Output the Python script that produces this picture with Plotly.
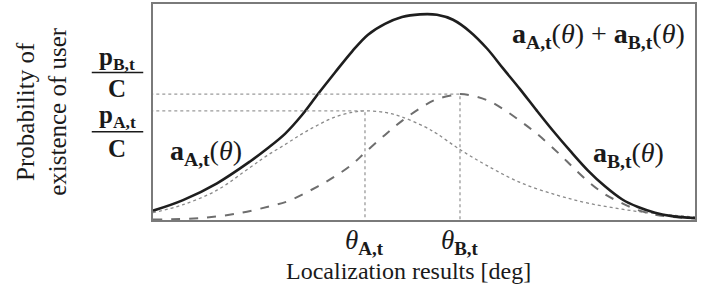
import plotly.graph_objects as go

# ---- data (x: 0..100 arbitrary deg units, y: 0..1 probability) ----
sum_x = [0, 5.54, 11.81, 17.90, 21.03, 24.35, 27.49, 30.44, 33.58, 36.72, 39.67, 42.80, 45.94, 49.26,
         52.40, 55.35, 58.49, 61.62, 64.58, 67.71, 70.85, 73.80, 76.94, 80.26, 83.39, 86.53, 89.48, 92.62, 95.76, 100]
sum_y = [0.043, 0.092, 0.170, 0.271, 0.330, 0.399, 0.486, 0.583, 0.683, 0.780, 0.858, 0.908, 0.940, 0.952,
         0.950, 0.927, 0.872, 0.794, 0.702, 0.606, 0.505, 0.413, 0.321, 0.229, 0.156, 0.096, 0.060, 0.034, 0.018, 0.009]

a_x = [0, 5.54, 11.81, 17.90, 21.03, 24.35, 27.49, 30.44, 33.58, 36.72, 39.11, 42.80, 45.94, 50.18,
       52.40, 56.64, 61.62, 67.71, 74.54, 80.26, 86.53, 92.62, 100]
a_y = [0.034, 0.071, 0.138, 0.243, 0.298, 0.349, 0.399, 0.440, 0.477, 0.498, 0.505, 0.498, 0.477, 0.431,
       0.399, 0.326, 0.252, 0.174, 0.115, 0.078, 0.050, 0.030, 0.014]

b_x = [0, 8.67, 16.05, 21.59, 24.91, 30.44, 33.58, 36.72, 39.11, 42.80, 45.94, 49.63, 52.40, 55.35, 56.64,
       58.49, 61.62, 64.58, 67.71, 70.85, 75.09, 77.31, 80.26, 83.39, 86.53, 89.48, 92.62, 95.76, 100]
b_y = [0.002, 0.009, 0.032, 0.064, 0.087, 0.156, 0.202, 0.257, 0.312, 0.394, 0.459, 0.523, 0.560, 0.578, 0.583,
       0.578, 0.555, 0.514, 0.459, 0.399, 0.303, 0.248, 0.179, 0.119, 0.078, 0.046, 0.025, 0.014, 0.007]

theta_a, peak_a = 39.11, 0.505
theta_b, peak_b = 56.64, 0.583

SERIF = "Liberation Serif"

fig = go.Figure()
fig.add_trace(go.Scatter(x=a_x, y=a_y, mode="lines", line=dict(color="#8a8a8a", width=1.3, dash="dot", shape="spline")))
fig.add_trace(go.Scatter(x=b_x, y=b_y, mode="lines", line=dict(color="#6e6e6e", width=2.0, dash="dash", shape="spline")))
fig.add_trace(go.Scatter(x=sum_x, y=sum_y, mode="lines", line=dict(color="#1e1e1e", width=2.6, shape="spline")))

# guide lines
guide = dict(color="#9a9a9a", width=1.3, dash="dot")
fig.add_trace(go.Scatter(x=[-0.5, theta_b, theta_b], y=[peak_b, peak_b, 0], mode="lines", line=guide, cliponaxis=False))
fig.add_trace(go.Scatter(x=[-0.5, theta_a, theta_a], y=[peak_a, peak_a, 0], mode="lines", line=guide, cliponaxis=False))

anns = []
def ann(text, x, y, size, xanchor="center", yanchor="middle", xref="paper", yref="paper", angle=0):
    anns.append(dict(text=text, x=x, y=y, xref=xref, yref=yref, showarrow=False,
                     xanchor=xanchor, yanchor=yanchor, textangle=angle,
                     font=dict(family=SERIF, size=size, color="#1a1a1a")))

ann("<b>a<sub>A,t</sub></b>(<i>θ</i>)", 0.028, 0.312, 28, xanchor="left")
ann("<b>a<sub>A,t</sub></b>(<i>θ</i>) + <b>a<sub>B,t</sub></b>(<i>θ</i>)", 0.985, 0.855, 28, xanchor="right")
ann("<b>a<sub>B,t</sub></b>(<i>θ</i>)", 0.947, 0.305, 28, xanchor="right")

# fractions on the y side
ann("<b>p<sub>B,t</sub></b>", -0.066, 0.748, 25)
ann("<b>C</b>", -0.066, 0.610, 25)
ann("<b>p<sub>A,t</sub></b>", -0.066, 0.480, 25)
ann("<b>C</b>", -0.066, 0.332, 25)

# theta tick labels
ann("<i>θ</i><sub><b>A,t</b></sub>", theta_a, -0.100, 27, xref="x")
ann("<i>θ</i><sub><b>B,t</b></sub>", theta_b, -0.100, 27, xref="x")

# axis titles
ann("Localization results [deg]", 0.472, -0.236, 24)
ann("Probability of<br>existence of user", -0.205, 0.505, 25, angle=-90)

shapes = [
    dict(type="line", xref="paper", yref="paper", x0=-0.113, x1=-0.018, y0=0.683, y1=0.683, line=dict(color="#1a1a1a", width=1.5)),
    dict(type="line", xref="paper", yref="paper", x0=-0.113, x1=-0.018, y0=0.408, y1=0.408, line=dict(color="#1a1a1a", width=1.5)),
]

fig.update_layout(
    width=704, height=291,
    margin=dict(l=153, r=9, t=2, b=71),
    paper_bgcolor="white", plot_bgcolor="white",
    showlegend=False,
    annotations=anns, shapes=shapes,
    xaxis=dict(range=[0, 100], showgrid=False, zeroline=False, showticklabels=False, ticks="",
               showline=True, mirror=True, linecolor="#7a7a7a", linewidth=1.5),
    yaxis=dict(range=[0, 1], showgrid=False, zeroline=False, showticklabels=False, ticks="",
               showline=True, mirror=True, linecolor="#7a7a7a", linewidth=1.5),
)
fig.write_html("out.html")
